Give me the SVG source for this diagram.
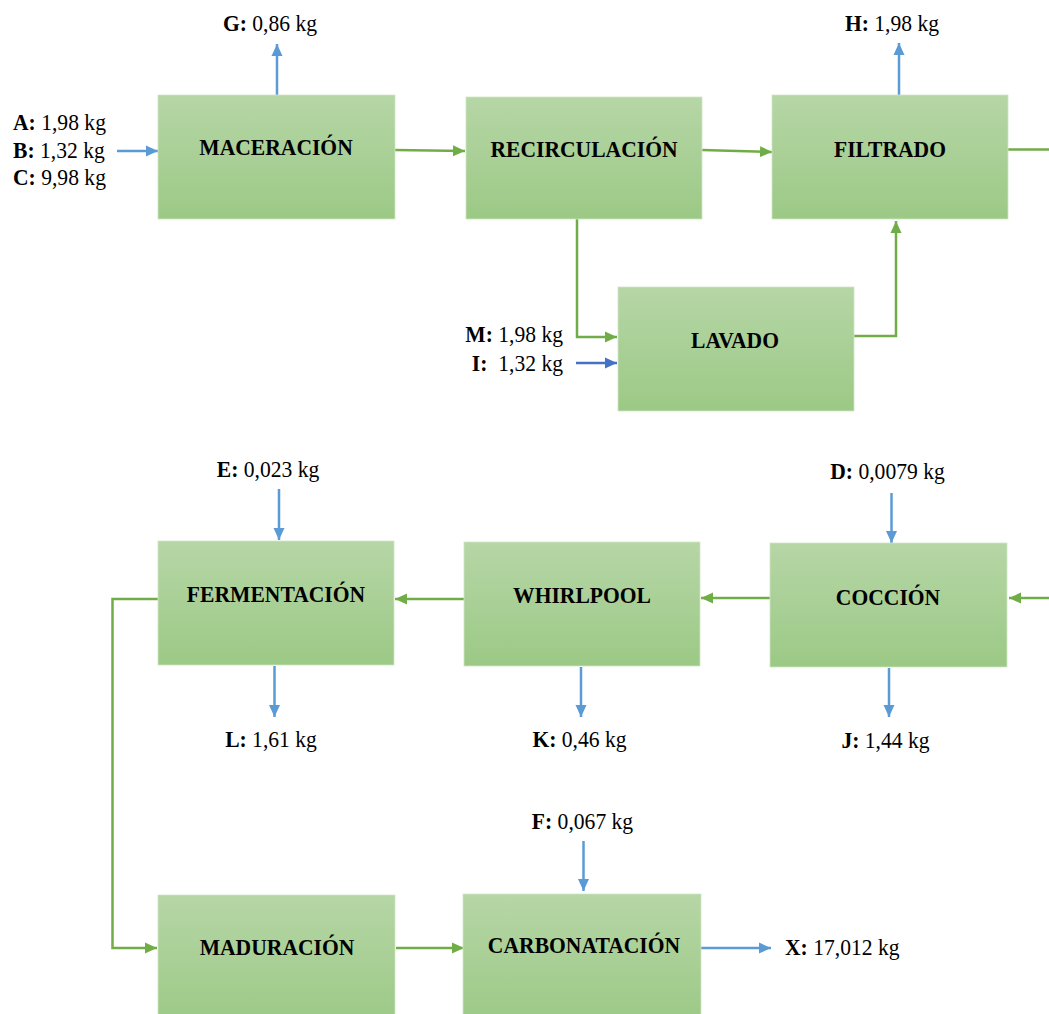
<svg xmlns="http://www.w3.org/2000/svg" width="1049" height="1014" viewBox="0 0 1049 1014">
<style>
.box{fill:url(#g);stroke:#cfe5c3;stroke-width:0.8}
.t{font-family:"Liberation Serif","Times New Roman",serif;font-size:21.6px;fill:#000}
.n{font-weight:bold;text-anchor:middle}
.b{font-weight:bold}
.c{text-anchor:middle}
.e{text-anchor:end}
.gr{fill:none;stroke:#70ad47;stroke-width:2.5;marker-end:url(#ag)}
.bl{fill:none;stroke:#5b9bd5;stroke-width:2.5;marker-end:url(#ab)}
.db{fill:none;stroke:#4472c4;stroke-width:2.5;marker-end:url(#ad)}
</style>
<defs>
<linearGradient id="g" x1="0" y1="0" x2="0" y2="1">
<stop offset="0" stop-color="#b6d6a6"/>
<stop offset="1" stop-color="#9cc986"/>
</linearGradient>
<marker id="ag" markerUnits="userSpaceOnUse" markerWidth="12" markerHeight="12" refX="12" refY="6" orient="auto"><path d="M0,0.5 L12,6 L0,11.5 z" fill="#70ad47"/></marker>
<marker id="ab" markerUnits="userSpaceOnUse" markerWidth="12" markerHeight="12" refX="12" refY="6" orient="auto"><path d="M0,0.5 L12,6 L0,11.5 z" fill="#5b9bd5"/></marker>
<marker id="ad" markerUnits="userSpaceOnUse" markerWidth="12" markerHeight="12" refX="12" refY="6" orient="auto"><path d="M0,0.5 L12,6 L0,11.5 z" fill="#4472c4"/></marker>
</defs>
<rect width="1049" height="1014" fill="#fff"/>

<g id="connectors">
<path class="gr" d="M395,150 L465,151"/>
<path class="gr" d="M702,150 L772,152"/>
<path class="gr" d="M1008,149.5 L1049,149.5" style="marker-end:none"/>
<path class="gr" d="M577,219 L577,337 L617,337"/>
<path class="gr" d="M854,336 L896,336 L896,221"/>
<path class="gr" d="M1049,598 L1009,598"/>
<path class="gr" d="M770,598 L701,598"/>
<path class="gr" d="M464,599 L395,599"/>
<path class="gr" d="M158,599 L112.5,599 L112.5,948 L157,948"/>
<path class="gr" d="M396,948 L464,948"/>
<path class="bl" d="M117,151 L158,151"/>
<path class="bl" d="M277,95 L277,44"/>
<path class="bl" d="M899,95 L899,43"/>
<path class="db" d="M576,363 L617,363"/>
<path class="bl" d="M279,489 L279,540"/>
<path class="bl" d="M891.5,493 L891.5,543"/>
<path class="bl" d="M274.5,666 L274.5,717"/>
<path class="bl" d="M581,667 L581,717"/>
<path class="bl" d="M889,668 L889,717"/>
<path class="bl" d="M583.5,841 L583.5,891"/>
<path class="bl" d="M701,948 L771,948"/>
</g>

<g id="maceracion">
<rect class="box" x="158" y="95" width="237" height="124"/>
<text class="t n" transform="translate(276,155) scale(1,1.1)">MACERACIÓN</text>
</g>
<g id="recirculacion">
<rect class="box" x="466" y="97" width="236" height="122"/>
<text class="t n" transform="translate(584,157) scale(1,1.1)">RECIRCULACIÓN</text>
</g>
<g id="filtrado">
<rect class="box" x="772" y="95" width="236" height="124"/>
<text class="t n" transform="translate(890,156.5) scale(1,1.1)">FILTRADO</text>
</g>
<g id="lavado">
<rect class="box" x="618" y="287" width="236" height="124"/>
<text class="t n" transform="translate(735,347.5) scale(1,1.1)">LAVADO</text>
</g>
<g id="fermentacion">
<rect class="box" x="158" y="541" width="236" height="124"/>
<text class="t n" transform="translate(276,601.5) scale(1,1.1)">FERMENTACIÓN</text>
</g>
<g id="whirlpool">
<rect class="box" x="464" y="542" width="236" height="124"/>
<text class="t n" transform="translate(582,603) scale(1,1.1)">WHIRLPOOL</text>
</g>
<g id="coccion">
<rect class="box" x="770" y="543" width="237" height="124"/>
<text class="t n" transform="translate(888,605) scale(1,1.1)">COCCIÓN</text>
</g>
<g id="maduracion">
<rect class="box" x="158" y="895" width="237" height="130"/>
<text class="t n" transform="translate(277,955) scale(1,1.1)">MADURACIÓN</text>
</g>
<g id="carbonatacion">
<rect class="box" x="463" y="894" width="238" height="130"/>
<text class="t n" transform="translate(584,953) scale(1,1.1)">CARBONATACIÓN</text>
</g>

<g id="labels">
<text class="t" transform="translate(13,130) scale(1,1.1)"><tspan class="b">A:</tspan> 1,98 kg</text>
<text class="t" transform="translate(13,157.5) scale(1,1.1)"><tspan class="b">B:</tspan> 1,32 kg</text>
<text class="t" transform="translate(13,185) scale(1,1.1)"><tspan class="b">C:</tspan> 9,98 kg</text>
<text class="t c" transform="translate(270,31) scale(1,1.1)"><tspan class="b">G:</tspan> 0,86 kg</text>
<text class="t c" transform="translate(892,31) scale(1,1.1)"><tspan class="b">H:</tspan> 1,98 kg</text>
<text class="t e" transform="translate(563,341.5) scale(1,1.1)"><tspan class="b">M:</tspan> 1,98 kg</text>
<text class="t e" transform="translate(563,371) scale(1,1.1)" xml:space="preserve"><tspan class="b">I:</tspan>  1,32 kg</text>
<text class="t c" transform="translate(268,477) scale(1,1.1)"><tspan class="b">E:</tspan> 0,023 kg</text>
<text class="t c" transform="translate(887.5,479) scale(1,1.1)"><tspan class="b">D:</tspan> 0,0079 kg</text>
<text class="t c" transform="translate(271,746.5) scale(1,1.1)"><tspan class="b">L:</tspan> 1,61 kg</text>
<text class="t c" transform="translate(579.5,747) scale(1,1.1)"><tspan class="b">K:</tspan> 0,46 kg</text>
<text class="t c" transform="translate(885.5,748) scale(1,1.1)"><tspan class="b">J:</tspan> 1,44 kg</text>
<text class="t c" transform="translate(582.5,829) scale(1,1.1)"><tspan class="b">F:</tspan> 0,067 kg</text>
<text class="t" transform="translate(785,955) scale(1,1.1)"><tspan class="b">X:</tspan> 17,012 kg</text>
</g>
</svg>
